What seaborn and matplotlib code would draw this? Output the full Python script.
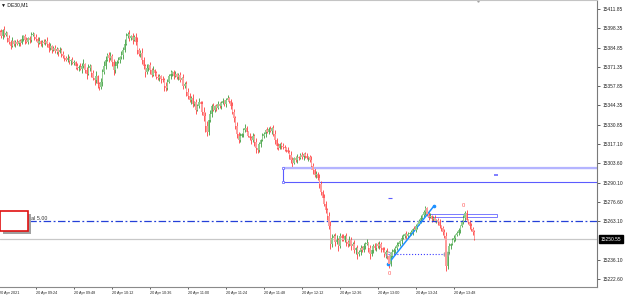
import numpy as np
import pandas as pd
import seaborn as sns
import matplotlib.pyplot as plt
import matplotlib.transforms as mtransforms
from matplotlib.patches import Rectangle

# DE30 M1, 20 Apr 2021 -- bar index = minutes after 09:00
first_open = 15396.0
closes = [
    15395.6, 15392.8, 15397.0, 15393.5, 15394.9, 15391.4, 15388.6, 15385.8, 15389.3, 15387.2,
    15388.6, 15387.2, 15389.3, 15387.9, 15390.7, 15392.8, 15390.0, 15388.6, 15391.4, 15390.0,
    15393.5, 15394.2, 15392.1, 15390.7, 15387.9, 15389.3, 15387.2, 15388.6, 15387.9, 15389.3,
    15387.2, 15384.4, 15385.8, 15383.0, 15384.4, 15382.3, 15383.7, 15381.6, 15383.0, 15380.2,
    15378.8, 15377.4, 15376.0, 15377.4, 15375.3, 15376.0, 15373.9, 15374.6, 15371.8, 15370.4,
    15371.1, 15369.7, 15371.8, 15373.2, 15369.0, 15366.2, 15370.4, 15371.8, 15366.9, 15363.4,
    15362.0, 15364.8, 15359.2, 15357.1, 15360.6, 15367.6, 15371.8, 15376.0, 15379.5, 15377.4,
    15378.8, 15374.6, 15369.0, 15371.8, 15374.6, 15376.0, 15378.1, 15379.5, 15383.0, 15387.2,
    15392.8, 15394.2, 15391.4, 15392.8, 15390.0, 15392.1, 15388.6, 15383.0, 15380.2, 15380.9,
    15376.0, 15371.8, 15367.6, 15370.4, 15372.5, 15369.0, 15365.5, 15369.0, 15366.9, 15364.1,
    15363.4, 15364.8, 15362.7, 15362.0, 15357.8, 15356.4, 15360.6, 15364.8, 15366.2, 15367.6,
    15364.8, 15366.2, 15364.1, 15365.5, 15362.0, 15363.4, 15357.8, 15359.2, 15353.6, 15350.8,
    15348.0, 15349.4, 15345.2, 15346.6, 15341.0, 15343.8, 15346.6, 15345.2, 15339.6, 15336.8,
    15329.8, 15325.6, 15334.0, 15338.2, 15343.8, 15341.0, 15343.8, 15342.4, 15345.2, 15343.8,
    15345.9, 15347.3, 15345.2, 15348.0, 15349.4, 15347.3, 15343.8, 15339.6, 15335.4, 15329.8,
    15324.2, 15320.0, 15322.8, 15324.2, 15327.0, 15328.4, 15325.6, 15322.8, 15321.4, 15320.0,
    15322.8, 15318.6, 15314.4, 15313.0, 15317.2, 15320.0, 15322.8, 15324.2, 15327.0, 15325.6,
    15327.7, 15326.3, 15328.4, 15324.2, 15320.0, 15315.8, 15314.4, 15317.2, 15315.8, 15315.1,
    15314.4, 15313.0, 15311.6, 15309.5, 15306.0, 15303.9, 15307.4, 15306.0, 15308.1, 15307.4,
    15309.5, 15308.1, 15310.2, 15308.8, 15307.4, 15308.1, 15306.0, 15301.8, 15299.0, 15295.5,
    15296.2, 15293.4, 15289.2, 15283.6, 15279.4, 15275.2, 15271.0, 15266.8, 15259.8, 15247.2,
    15251.4, 15252.8, 15248.6, 15250.0, 15245.8, 15252.8, 15251.4, 15250.0, 15252.8, 15248.6,
    15247.2, 15250.0, 15245.8, 15247.2, 15243.0, 15244.4, 15240.2, 15241.6, 15244.4, 15243.0,
    15245.8, 15247.2, 15247.9, 15244.4, 15240.2, 15243.0, 15245.8, 15244.4, 15247.2, 15245.8,
    15247.2, 15244.4, 15243.0, 15240.2, 15241.6, 15238.8, 15233.0, 15238.8, 15241.6, 15243.0,
    15244.4, 15246.5, 15247.2, 15249.3, 15251.4, 15252.8, 15254.2, 15252.8, 15254.2, 15254.9,
    15255.6, 15257.7, 15257.0, 15259.8, 15261.2, 15263.3, 15265.4, 15267.5, 15269.6, 15272.4,
    15268.2, 15266.1, 15266.8, 15264.7, 15265.4, 15263.3, 15264.0, 15262.6, 15259.8, 15258.4,
    15255.6, 15252.8, 15231.5, 15241.6, 15245.8, 15247.2, 15250.0, 15251.4, 15253.5, 15254.9,
    15257.0, 15259.8, 15262.6, 15265.4, 15269.0, 15264.0, 15262.6, 15259.8, 15257.7, 15255.6,
    15250.55,
]
# wick lengths above / below the body, in points
wick_up = [
    1.4, 2.1, 0.7, 2.8, 1.4, 0.7, 2.1, 1.4, 2.8, 0.7,
    1.4, 2.1, 0.7, 1.4, 2.8, 0.7, 1.4, 2.1, 0.7, 1.4,
    2.1, 1.4, 0.7, 2.1, 1.4, 2.8, 0.7, 1.4, 2.1, 1.4,
    2.8, 1.4, 2.1, 0.7, 1.4, 2.1, 1.4, 0.7, 2.1, 1.4,
    2.1, 0.7, 1.4, 2.8, 1.4, 0.7, 2.1, 1.4, 0.7, 2.1,
    1.4, 2.8, 2.1, 3.5, 0.7, 2.1, 2.8, 1.4, 0.7, 2.1,
    1.4, 3.5, 0.7, 1.4, 2.8, 2.1, 3.5, 2.8, 1.4, 2.1,
    2.8, 1.4, 2.1, 3.5, 1.4, 2.1, 0.7, 2.8, 2.1, 3.5,
    2.1, 1.4, 2.8, 0.7, 2.1, 1.4, 2.8, 3.5, 1.4, 2.1,
    3.5, 2.1, 1.4, 2.8, 0.7, 2.1, 1.4, 2.8, 0.7, 1.4,
    2.1, 1.4, 0.7, 2.1, 1.4, 2.8, 2.1, 1.4, 2.8, 0.7,
    1.4, 2.1, 0.7, 1.4, 2.1, 0.7, 2.8, 1.4, 2.1, 2.8,
    2.1, 1.4, 2.8, 0.7, 2.1, 1.4, 2.8, 0.7, 2.1, 3.5,
    2.8, 3.5, 2.1, 2.8, 1.4, 2.1, 0.7, 1.4, 2.1, 1.4,
    1.4, 2.1, 0.7, 1.4, 2.1, 0.7, 1.4, 2.8, 2.1, 1.4,
    2.8, 1.4, 2.1, 0.7, 1.4, 2.8, 1.4, 0.7, 2.1, 1.4,
    2.1, 1.4, 2.8, 2.1, 1.4, 0.7, 2.1, 1.4, 0.7, 2.1,
    1.4, 2.1, 0.7, 2.1, 2.8, 1.4, 2.1, 0.7, 1.4, 2.1,
    1.4, 0.7, 2.1, 1.4, 2.8, 2.1, 0.7, 1.4, 2.1, 0.7,
    1.4, 2.1, 0.7, 1.4, 2.1, 0.7, 1.4, 2.8, 2.1, 1.4,
    2.1, 1.4, 2.8, 2.1, 1.4, 2.8, 2.1, 1.4, 2.8, 3.5,
    2.8, 1.4, 2.1, 3.5, 1.4, 2.1, 1.4, 2.8, 0.7, 2.1,
    1.4, 2.8, 2.1, 1.4, 2.8, 0.7, 2.1, 1.4, 2.1, 1.4,
    2.1, 1.4, 2.8, 0.7, 2.1, 2.8, 1.4, 2.1, 0.7, 1.4,
    2.1, 1.4, 0.7, 2.1, 1.4, 2.8, 0.7, 1.4, 2.1, 1.4,
    1.4, 2.1, 1.4, 0.7, 2.1, 1.4, 0.7, 2.1, 1.4, 0.7,
    1.4, 0.7, 2.1, 1.4, 0.7, 1.4, 2.1, 0.7, 1.4, 1.4,
    0.7, 1.4, 2.1, 0.7, 1.4, 2.1, 0.7, 1.4, 2.1, 0.7,
    1.4, 2.1, 2.8, 1.4, 2.1, 0.7, 1.4, 2.1, 0.7, 1.4,
    1.4, 0.7, 1.4, 2.1, 1.4, 2.1, 0.7, 1.4, 2.1, 1.4,
    1.4,
]
wick_dn = [
    0.7, 1.4, 2.1, 1.4, 0.7, 2.8, 1.4, 2.1, 0.7, 1.4,
    2.1, 0.7, 1.4, 2.1, 0.7, 1.4, 2.8, 0.7, 1.4, 2.1,
    1.4, 0.7, 2.1, 1.4, 2.8, 0.7, 1.4, 2.1, 0.7, 1.4,
    2.1, 2.8, 1.4, 2.1, 0.7, 1.4, 2.1, 2.8, 0.7, 2.1,
    1.4, 2.1, 0.7, 1.4, 2.1, 2.8, 0.7, 1.4, 2.1, 1.4,
    2.1, 0.7, 2.8, 1.4, 2.1, 3.5, 0.7, 2.1, 2.8, 1.4,
    3.5, 2.1, 2.8, 2.1, 1.4, 2.8, 1.4, 2.1, 0.7, 2.8,
    1.4, 2.8, 3.5, 2.1, 1.4, 0.7, 2.1, 1.4, 2.8, 1.4,
    0.7, 1.4, 2.1, 1.4, 2.8, 0.7, 2.1, 2.8, 1.4, 2.1,
    2.8, 2.1, 3.5, 1.4, 2.1, 2.8, 1.4, 0.7, 2.1, 1.4,
    1.4, 2.1, 2.8, 1.4, 3.5, 2.1, 1.4, 0.7, 2.1, 1.4,
    2.1, 0.7, 1.4, 2.1, 1.4, 2.8, 2.1, 1.4, 2.8, 2.1,
    1.4, 2.8, 2.1, 1.4, 2.8, 0.7, 1.4, 2.8, 2.1, 3.5,
    4.2, 2.8, 2.1, 1.4, 2.1, 0.7, 1.4, 2.1, 0.7, 1.4,
    2.1, 0.7, 1.4, 2.1, 0.7, 1.4, 2.1, 1.4, 2.8, 2.1,
    2.8, 2.1, 1.4, 0.7, 2.1, 1.4, 2.1, 0.7, 1.4, 2.8,
    1.4, 2.8, 3.5, 2.1, 1.4, 2.1, 0.7, 1.4, 2.1, 0.7,
    1.4, 0.7, 2.1, 1.4, 2.8, 2.1, 1.4, 0.7, 2.1, 1.4,
    2.1, 1.4, 0.7, 2.8, 2.1, 3.5, 0.7, 1.4, 2.1, 1.4,
    0.7, 1.4, 2.1, 1.4, 0.7, 2.1, 1.4, 2.1, 2.8, 1.4,
    2.1, 1.4, 2.8, 2.1, 2.8, 1.4, 2.1, 2.8, 2.1, 3.5,
    2.1, 1.4, 2.8, 1.4, 3.5, 1.4, 2.1, 0.7, 1.4, 2.8,
    2.1, 1.4, 2.8, 1.4, 2.1, 2.8, 3.5, 1.4, 2.1, 1.4,
    1.4, 2.1, 0.7, 2.8, 3.5, 1.4, 2.1, 1.4, 2.1, 1.4,
    2.1, 2.8, 1.4, 2.1, 2.8, 2.1, 2.8, 1.4, 0.7, 1.4,
    2.1, 1.4, 0.7, 1.4, 2.1, 0.7, 1.4, 2.1, 1.4, 0.7,
    1.4, 2.1, 0.7, 1.4, 2.1, 0.7, 1.4, 0.7, 1.4, 2.1,
    1.4, 2.1, 0.7, 2.1, 1.4, 0.7, 1.4, 2.1, 1.4, 2.1,
    2.1, 1.4, 3.5, 2.1, 1.4, 2.1, 0.7, 1.4, 2.1, 0.7,
    1.4, 2.1, 0.7, 1.4, 2.1, 0.7, 1.4, 2.1, 1.4, 2.1,
    0.7,
]

price_ticks = [15411.85, 15398.35, 15384.85, 15371.35, 15357.85, 15344.35, 15330.85,
               15317.10, 15303.60, 15290.10, 15276.60, 15263.10, 15236.10, 15222.60]
time_ticks = [24, 48, 72, 96, 120, 144, 168, 192, 216, 240, 264, 288]
time_labels = ["20 Apr 09:24", "20 Apr 09:48", "20 Apr 10:12", "20 Apr 10:36",
               "20 Apr 11:00", "20 Apr 11:24", "20 Apr 11:48", "20 Apr 12:12",
               "20 Apr 12:36", "20 Apr 13:00", "20 Apr 13:24", "20 Apr 13:48"]
first_label = "20 Apr 2021"
bid = 15250.55
level_line = 15263.10

# drawn objects
zone_bars = [180, 449]
zone_prices = [15290.5, 15300.6]
trend_bars = [246.4, 275.4]
trend_prices = [15233.1, 15273.8]
flat_bars = [246.4, 283.2]
flat_prices = [15240.1, 15240.1]
thin_bars = [271.6, 315.2]
thin_prices = [15266.4, 15268.5]
fractal_bars = [247, 293.7]
fractal_prices = [15226.6, 15274.2]

sns.set_theme(style="white")
plt.rcParams['font.family'] = ['Liberation Sans', 'DejaVu Sans']

fig = plt.figure(figsize=(6.25, 2.97), dpi=100)
ax = fig.add_axes([0, 10 / 297, 597 / 625, 287 / 297])

df = pd.DataFrame({"bar": np.arange(1, len(closes) + 1),
                   "open": [first_open] + closes[:-1],
                   "close": closes,
                   "wu": wick_up, "wd": wick_dn})
df["lo"] = df[["open", "close"]].min(axis=1)
df["hi"] = df[["open", "close"]].max(axis=1)
df["high"] = df["hi"] + df["wu"]
df["low"] = df["lo"] - df["wd"]
up = df["close"] >= df["open"]
body = np.where(up, "#8fcd8f", "#ff9c9c")
wick = np.where(up, "#3d9c3d", "#ff3e3e")
ax.vlines(df["bar"], df["low"], df["high"], colors=wick, linewidth=0.6)
ax.bar(df["bar"], df["hi"] - df["lo"], bottom=df["lo"], width=0.9, color=body,
       linewidth=0, zorder=2.1)

# horizontal lines
ax.axhline(level_line, color="#2440d8", lw=0.9, ls=(0, (6, 2, 1.5, 2)))
ax.axhline(bid, color="#c8c8c8", lw=0.9, zorder=0.5)

# rectangle zone
ax.add_patch(Rectangle((zone_bars[0], zone_prices[0]), zone_bars[1] - zone_bars[0],
                       zone_prices[1] - zone_prices[0], fill=False, ec="#5c5cff", lw=0.8))
ax.hlines(zone_prices[1], zone_bars[0], zone_bars[1], color="#b4b4ff", lw=1.6)
ax.plot([zone_bars[0]] * 2, zone_prices, "s", ms=2, mfc="white", mec="#5c5cff", mew=0.5)
ax.plot(np.mean(zone_bars), np.mean(zone_prices), "_", ms=2.2, color="#6a6aff", mew=1.2)
ax.plot(247.6, 15279.7, "_", ms=2.5, color="#5c5cff", mew=0.8)

# thin rectangle
ax.add_patch(Rectangle((thin_bars[0], thin_prices[0]), thin_bars[1] - thin_bars[0],
                       thin_prices[1] - thin_prices[0], fill=False, ec="#7a7aff", lw=0.7))

# trend line and dotted line
sns.lineplot(x=trend_bars, y=trend_prices, color="#1e90ff", lw=1.1, ax=ax)
ax.plot(trend_bars, trend_prices, "o", ms=1.6, color="#1e90ff")
sns.lineplot(x=flat_bars, y=flat_prices, color="#3b3bff", lw=0.8, linestyle=":", ax=ax)
ax.plot(flat_bars, flat_prices, "o", ms=3.5, mfc="none", mec="#9a9a9a", mew=0.7)

for b, p in zip(fractal_bars, fractal_prices):
    ax.text(b, p, "0", color="#ff5a5a", fontsize=4.2, ha="center", va="center")

ax.set_xlim(1.263, 378.4)
ax.set_ylim(15216.99, 15418.16)
ax.plot(303.2, 15418.16, marker="v", color="#a0a0a0", ms=2.5, clip_on=False)

# axes
ax.yaxis.tick_right()
ax.set_yticks(price_ticks)
ax.set_yticklabels([f"{v:.2f}" for v in price_ticks])
ax.set_xticks(time_ticks)
ax.set_xticklabels(time_labels)
for lab in ax.get_xticklabels():
    lab.set_horizontalalignment("left")
ax.tick_params(axis="y", right=True, length=2.2, width=0.5, pad=1.6, labelsize=3.5,
               colors="#222222")
ax.tick_params(axis="x", bottom=True, length=1.6, width=0.5, pad=1.2, labelsize=2.7,
               colors="#222222")
ax.annotate(first_label, xy=(0.4, 0), xycoords=("data", "axes fraction"),
            xytext=(0, -2.8), textcoords="offset points", ha="left", va="top",
            fontsize=2.7, color="#222222", annotation_clip=False)
ax.set_xlabel("")
ax.set_ylabel("")
for side, col in [("top", "#c4c4c4"), ("right", "#7a7a7a"), ("bottom", "#8a8a8a")]:
    ax.spines[side].set_color(col)
    ax.spines[side].set_linewidth(0.8)
ax.spines["left"].set_visible(False)

# current price label
trans = mtransforms.blended_transform_factory(ax.transAxes, ax.transData)
ax.text(1.006, bid, f"{bid:.2f}", transform=trans, color="white", fontsize=3.5,
        ha="left", va="center", clip_on=False,
        bbox=dict(boxstyle="square,pad=0.3", fc="black", ec="black"))


# overlays in figure pixels
def fx(x):
    return x / 625


def fy(y):
    return 1 - y / 297


fig.text(fx(1), fy(5), "\u25bc DE30,M1", fontsize=3.6, va="center", ha="left", color="#111111")
fig.text(fx(47), fy(219), "Total 5.00", fontsize=3.8, va="center", ha="right",
         color="#333333", zorder=1)
fig.add_artist(Rectangle((fx(3), fy(234)), fx(28), 20 / 297, transform=fig.transFigure,
                         fc="#a0a0a0", ec="none", zorder=2))
fig.add_artist(Rectangle((fx(0), fy(231)), fx(28), 20 / 297, transform=fig.transFigure,
                         fc="white", ec="#e01010", lw=1.2, zorder=3))

fig.savefig("out.png", dpi=100)
